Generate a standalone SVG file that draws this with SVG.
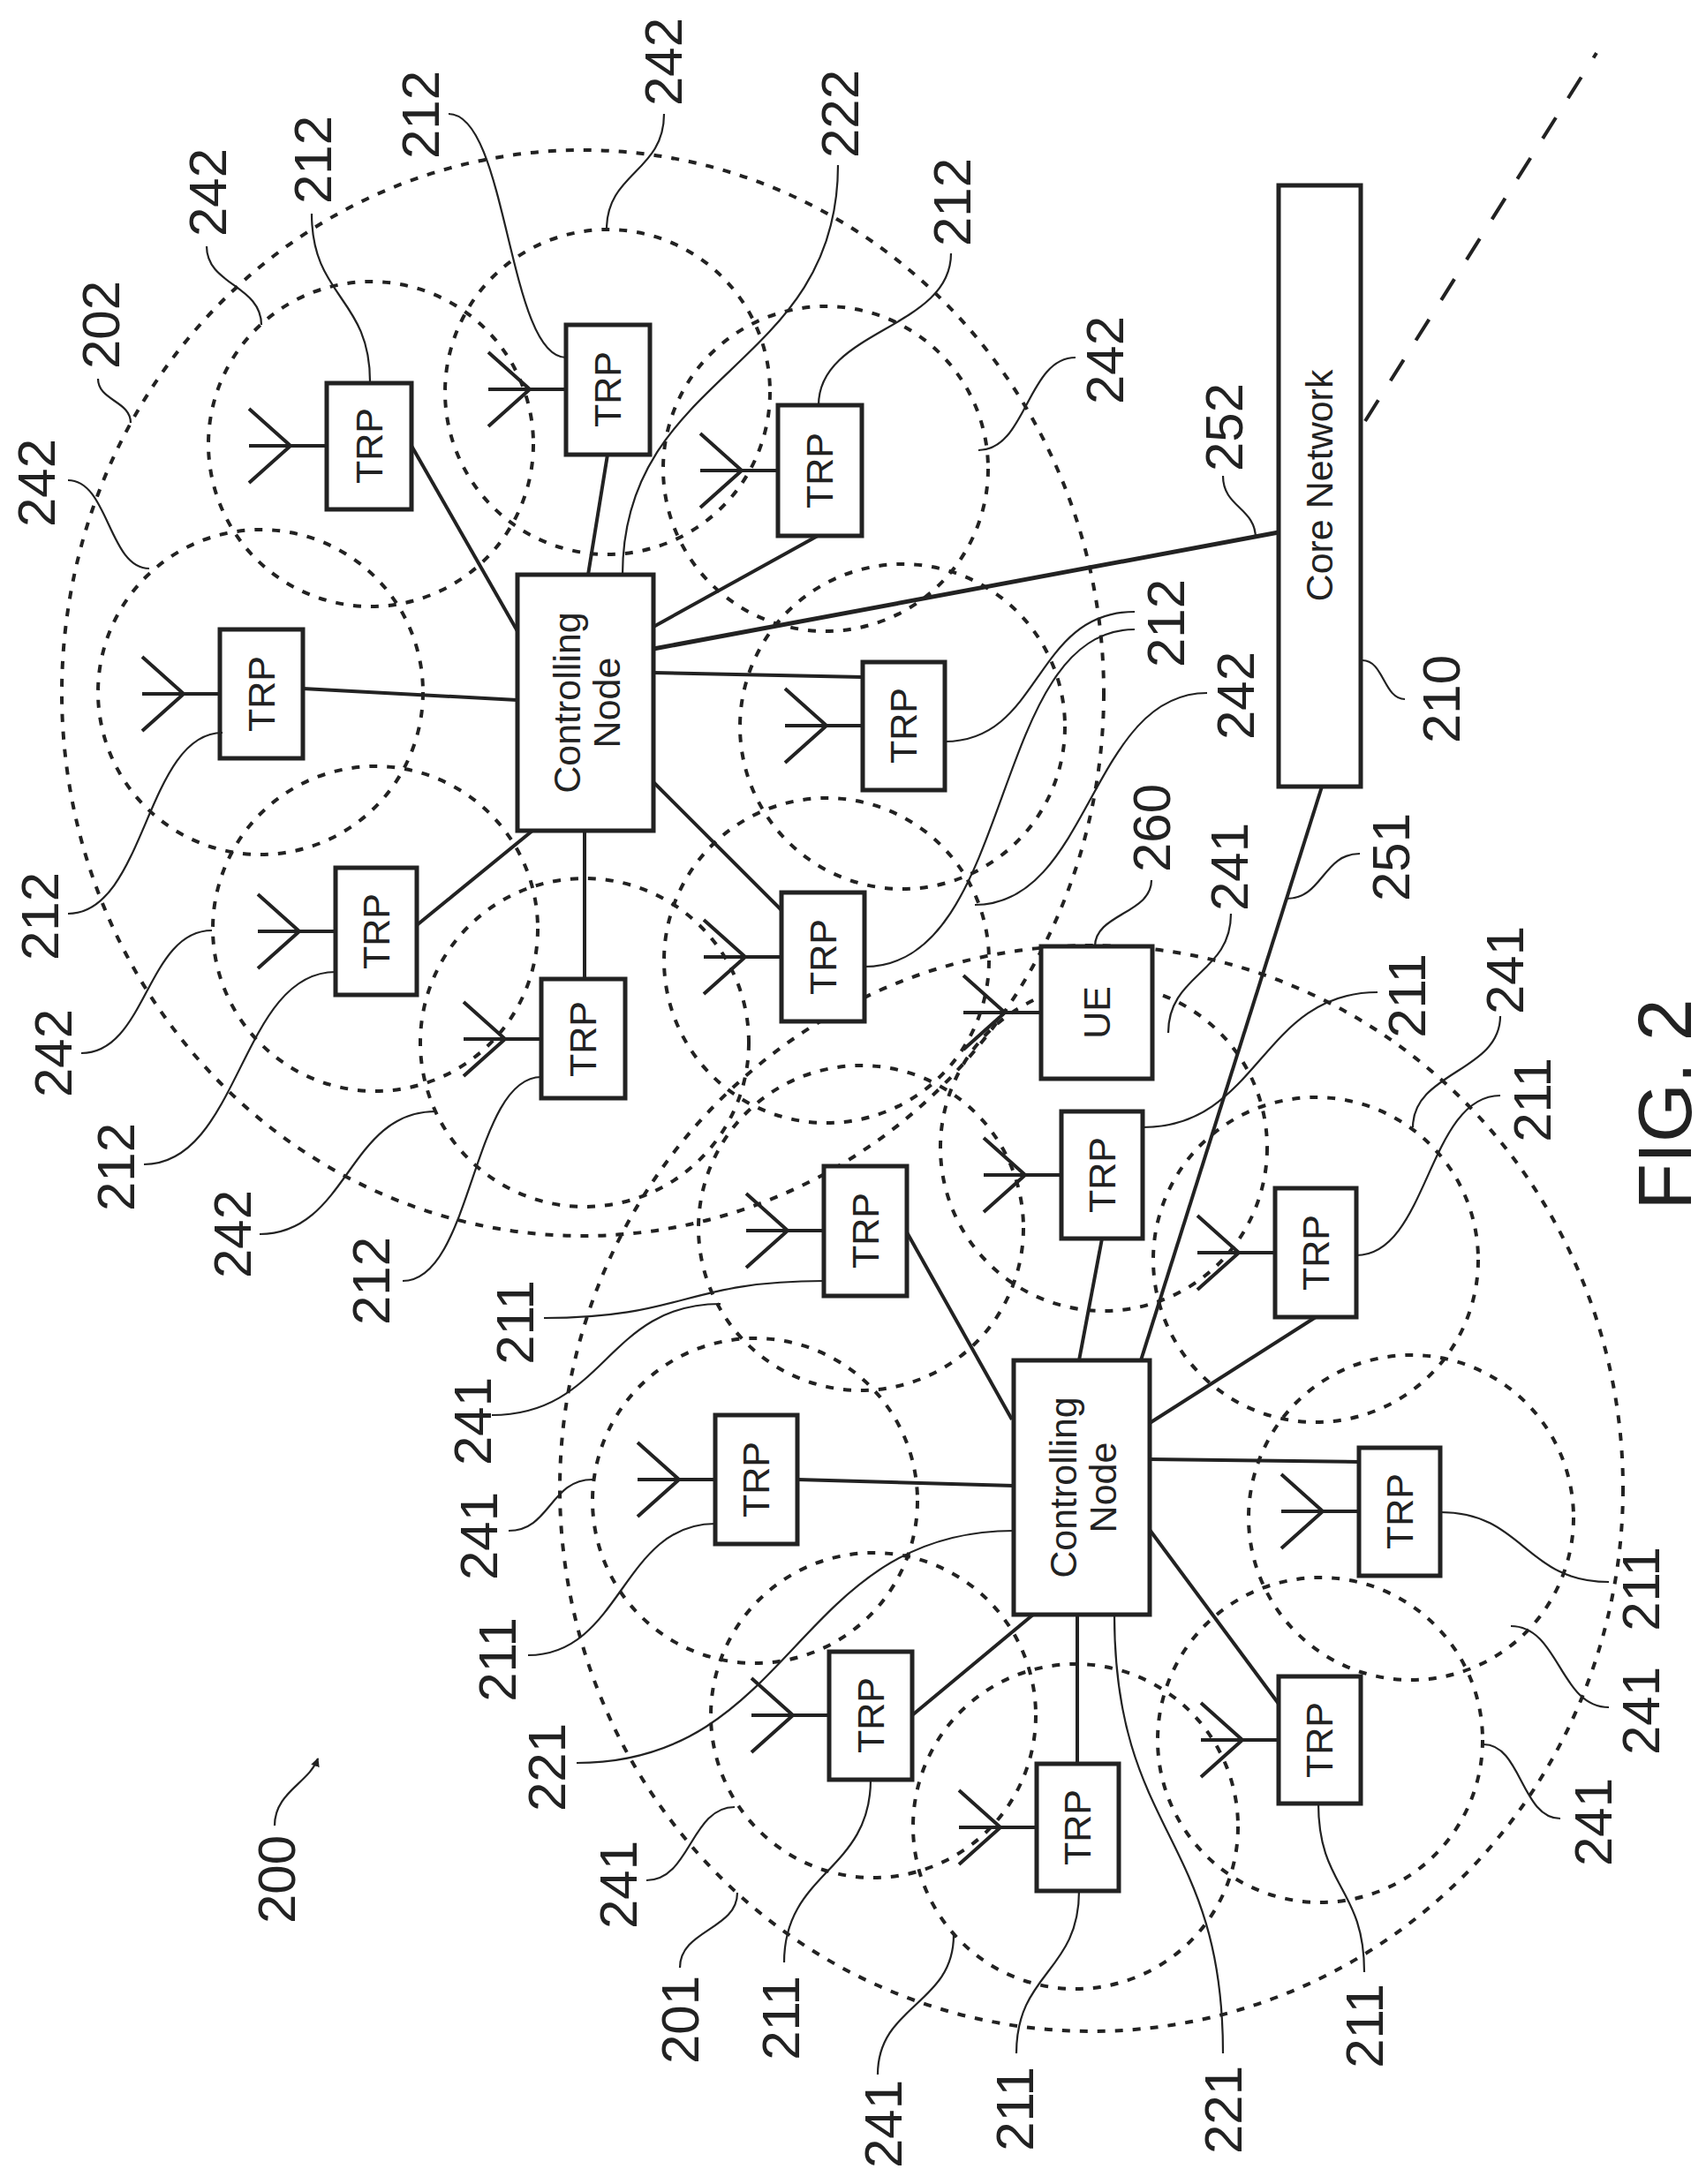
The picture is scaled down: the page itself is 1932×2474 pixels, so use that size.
<svg xmlns="http://www.w3.org/2000/svg" xmlns:xlink="http://www.w3.org/1999/xlink" width="1932" height="2474" viewBox="0 0 1932 2474">
<style>
.bg{fill:#fff}
.box{fill:#fff;stroke:#222;stroke-width:5}
.link{fill:none;stroke:#222;stroke-width:4}
.thick{fill:none;stroke:#222;stroke-width:5}
.cell{fill:none;stroke:#222;stroke-width:4;stroke-dasharray:9 11}
.lead{fill:none;stroke:#222;stroke-width:2.2}
.ant{fill:none;stroke:#222;stroke-width:4}
.lbl{font-family:"Liberation Sans",Arial,sans-serif;font-size:60px;fill:#222;text-anchor:middle}
.in{font-family:"Liberation Sans",Arial,sans-serif;font-size:43px;fill:#222;text-anchor:middle}
</style>
<defs>
<path id="an" class="ant" d="M0,0 H-88 M-41,0 L-88,-42 M-41,0 L-88,42"/>
<marker id="ah" markerWidth="10" markerHeight="10" refX="9" refY="5" orient="auto" markerUnits="userSpaceOnUse"><path d="M0,0 L10,5 L0,10 z" fill="#222"/></marker>
</defs>
<rect class="bg" width="1932" height="2474"/>

<g id="cells">
<ellipse class="cell" cx="660" cy="785" rx="590" ry="615"/>
<ellipse class="cell" cx="1236" cy="1686" rx="602" ry="615"/>
<circle class="cell" cx="420" cy="503" r="184"/>
<circle class="cell" cx="688" cy="444" r="184"/>
<circle class="cell" cx="935" cy="531" r="184"/>
<circle class="cell" cx="295" cy="784" r="184"/>
<circle class="cell" cx="1022" cy="823" r="184"/>
<circle class="cell" cx="425" cy="1052" r="184"/>
<circle class="cell" cx="662" cy="1181" r="186"/>
<circle class="cell" cx="936" cy="1088" r="184"/>
<circle class="cell" cx="975" cy="1391" r="184"/>
<circle class="cell" cx="1250" cy="1300" r="185"/>
<circle class="cell" cx="1490" cy="1427" r="184"/>
<circle class="cell" cx="855" cy="1700" r="184"/>
<circle class="cell" cx="1598" cy="1719" r="184"/>
<circle class="cell" cx="989" cy="1943" r="184"/>
<circle class="cell" cx="1218" cy="2069" r="184"/>
<circle class="cell" cx="1495" cy="1971" r="184"/>
</g>

<g id="connectors">
<path class="link" d="M466,505 L586,715"/>
<path class="link" d="M688,515 L666,651"/>
<path class="link" d="M926,607 L740,710"/>
<path class="thick" d="M740,735 L1448,603"/>
<path class="link" d="M343,780 L586,793"/>
<path class="link" d="M740,762 L977,767"/>
<path class="link" d="M740,886 L885,1031"/>
<path class="link" d="M472,1048 L603,941"/>
<path class="link" d="M662,941 L662,1109"/>
<path class="link" d="M1497,891 L1292,1541"/>
<path fill="none" stroke="#222" stroke-width="4" stroke-dasharray="28 26" d="M1546,477 L1808,60"/>
<path class="link" d="M1027,1396 L1146,1608"/>
<path class="link" d="M1248,1403 L1222,1541"/>
<path class="link" d="M1490,1492 L1302,1612"/>
<path class="link" d="M903,1676 L1148,1683"/>
<path class="link" d="M1302,1653 L1539,1656"/>
<path class="link" d="M1033,1943 L1170,1829"/>
<path class="link" d="M1220,1829 L1220,1998"/>
<path class="link" d="M1302,1733 L1448,1930"/>
</g>

<g id="nodeU"><rect class="box" x="586" y="651" width="154" height="290"/><text class="in" transform="translate(663,796) rotate(-90)" y="-6">Controlling</text><text class="in" transform="translate(663,796) rotate(-90)" y="39">Node</text></g>
<g id="nodeL"><rect class="box" x="1148" y="1541" width="154" height="288"/><text class="in" transform="translate(1225,1685) rotate(-90)" y="-6">Controlling</text><text class="in" transform="translate(1225,1685) rotate(-90)" y="39">Node</text></g>
<g id="core"><rect class="box" x="1448" y="210" width="93" height="681"/><text class="in" transform="translate(1494,550) rotate(-90)" y="15">Core Network</text></g>
<g id="ue"><use href="#an" x="1179" y="1147"/><rect class="box" x="1179" y="1072" width="126" height="150"/><text class="in" transform="translate(1242,1147) rotate(-90)" y="15">UE</text></g>

<g id="trpA"><use href="#an" x="370" y="505"/><rect class="box" x="370" y="434" width="96" height="143"/><text class="in" transform="translate(418,505) rotate(-90)" y="15">TRP</text></g>
<g id="trpB"><use href="#an" x="641" y="441"/><rect class="box" x="641" y="368" width="95" height="147"/><text class="in" transform="translate(688,441) rotate(-90)" y="15">TRP</text></g>
<g id="trpC"><use href="#an" x="881" y="533"/><rect class="box" x="881" y="459" width="95" height="148"/><text class="in" transform="translate(928,533) rotate(-90)" y="15">TRP</text></g>
<g id="trpD"><use href="#an" x="249" y="786"/><rect class="box" x="249" y="713" width="94" height="146"/><text class="in" transform="translate(296,786) rotate(-90)" y="15">TRP</text></g>
<g id="trpE"><use href="#an" x="977" y="822"/><rect class="box" x="977" y="750" width="93" height="145"/><text class="in" transform="translate(1023,822) rotate(-90)" y="15">TRP</text></g>
<g id="trpF"><use href="#an" x="380" y="1055"/><rect class="box" x="380" y="983" width="92" height="144"/><text class="in" transform="translate(426,1055) rotate(-90)" y="15">TRP</text></g>
<g id="trpG"><use href="#an" x="613" y="1177"/><rect class="box" x="613" y="1109" width="95" height="135"/><text class="in" transform="translate(660,1177) rotate(-90)" y="15">TRP</text></g>
<g id="trpH"><use href="#an" x="885" y="1084"/><rect class="box" x="885" y="1011" width="94" height="146"/><text class="in" transform="translate(932,1084) rotate(-90)" y="15">TRP</text></g>

<g id="trpa"><use href="#an" x="933" y="1394"/><rect class="box" x="933" y="1321" width="94" height="147"/><text class="in" transform="translate(980,1394) rotate(-90)" y="15">TRP</text></g>
<g id="trpb"><use href="#an" x="1202" y="1331"/><rect class="box" x="1202" y="1259" width="92" height="144"/><text class="in" transform="translate(1248,1331) rotate(-90)" y="15">TRP</text></g>
<g id="trpc"><use href="#an" x="1444" y="1419"/><rect class="box" x="1444" y="1346" width="92" height="146"/><text class="in" transform="translate(1490,1419) rotate(-90)" y="15">TRP</text></g>
<g id="trpd"><use href="#an" x="810" y="1676"/><rect class="box" x="810" y="1603" width="93" height="146"/><text class="in" transform="translate(856,1676) rotate(-90)" y="15">TRP</text></g>
<g id="trpe"><use href="#an" x="1539" y="1712"/><rect class="box" x="1539" y="1640" width="92" height="145"/><text class="in" transform="translate(1585,1712) rotate(-90)" y="15">TRP</text></g>
<g id="trpf"><use href="#an" x="939" y="1943"/><rect class="box" x="939" y="1871" width="94" height="145"/><text class="in" transform="translate(986,1943) rotate(-90)" y="15">TRP</text></g>
<g id="trpg"><use href="#an" x="1174" y="2070"/><rect class="box" x="1174" y="1998" width="93" height="144"/><text class="in" transform="translate(1220,2070) rotate(-90)" y="15">TRP</text></g>
<g id="trph"><use href="#an" x="1448" y="1971"/><rect class="box" x="1448" y="1899" width="93" height="144"/><text class="in" transform="translate(1494,1971) rotate(-90)" y="15">TRP</text></g>

<g id="leaders">
<path class="lead" d="M77,544 C123,544 123,644 169,644"/>
<path class="lead" d="M111,429 C111,454 148,454 148,479"/>
<path class="lead" d="M234,279 C234,323 296,323 296,368"/>
<path class="lead" d="M353,242 C353,337 419,337 419,432"/>
<path class="lead" d="M508,129 C575,129 575,405 641,405"/>
<path class="lead" d="M752,129 C752,195 687,195 687,260"/>
<path class="lead" d="M949,187 C949,420 705,420 705,651"/>
<path class="lead" d="M1077,287 C1077,373 927,373 927,459"/>
<path class="lead" d="M1218,405 C1163,405 1163,510 1108,510"/>
<path class="lead" d="M1385,539 C1385,575 1422,575 1422,610"/>
<path class="lead" d="M1285,693 C1170,693 1180,840 1070,840"/>
<path class="lead" d="M1285,713 C1120,713 1150,1095 979,1095"/>
<path class="lead" d="M1367,785 C1235,785 1235,1025 1104,1025"/>
<path class="lead" d="M1304,997 C1304,1035 1240,1035 1240,1072"/>
<path class="lead" d="M1394,1035 C1394,1103 1323,1103 1323,1170"/>
<path class="lead" d="M1540,967 C1498,967 1498,1018 1457,1018"/>
<path class="lead" d="M1543,748 C1567,748 1567,792 1591,792"/>
<path class="lead" d="M77,1035 C165,1035 165,830 252,830"/>
<path class="lead" d="M92,1193 C166,1193 166,1054 240,1054"/>
<path class="lead" d="M163,1319 C272,1319 272,1101 380,1101"/>
<path class="lead" d="M294,1398 C394,1398 394,1259 493,1259"/>
<path class="lead" d="M456,1451 C535,1451 535,1220 613,1220"/>
<path class="lead" d="M616,1493 C775,1493 775,1451 933,1451"/>
<path class="lead" d="M557,1603 C686,1603 686,1477 816,1477"/>
<path class="lead" d="M576,1734 C623,1734 623,1676 671,1676"/>
<path class="lead" d="M598,1875 C704,1875 704,1726 810,1726"/>
<path class="lead" d="M653,1997 C900,1997 900,1734 1148,1734"/>
<path class="lead" d="M311,2068 C311,2030 350,2020 360,1992" marker-end="url(#ah)"/>
<path class="lead" d="M732,2130 C782,2130 782,2047 832,2047"/>
<path class="lead" d="M770,2229 C770,2186 835,2186 835,2144"/>
<path class="lead" d="M888,2223 C888,2120 986,2120 986,2016"/>
<path class="lead" d="M994,2350 C994,2271 1080,2271 1080,2192"/>
<path class="lead" d="M1151,2326 C1151,2234 1222,2234 1222,2142"/>
<path class="lead" d="M1385,2326 C1385,2078 1262,2078 1262,1829"/>
<path class="lead" d="M1545,2234 C1545,2138 1493,2138 1493,2043"/>
<path class="lead" d="M1767,2060 C1723,2060 1723,1976 1680,1976"/>
<path class="lead" d="M1822,1934 C1766,1934 1766,1842 1711,1842"/>
<path class="lead" d="M1822,1792 C1726,1792 1726,1713 1631,1713"/>
<path class="lead" d="M1560,1124 C1427,1124 1427,1277 1294,1277"/>
<path class="lead" d="M1699,1151 C1699,1214 1600,1214 1600,1277"/>
<path class="lead" d="M1699,1241 C1617,1241 1617,1422 1536,1422"/>
</g>

<g id="labels">
<text class="lbl" transform="translate(41,547) rotate(-90)" y="21">242</text>
<text class="lbl" transform="translate(114,368) rotate(-90)" y="21">202</text>
<text class="lbl" transform="translate(235,218) rotate(-90)" y="21">242</text>
<text class="lbl" transform="translate(354,181) rotate(-90)" y="21">212</text>
<text class="lbl" transform="translate(476,130) rotate(-90)" y="21">212</text>
<text class="lbl" transform="translate(751,70) rotate(-90)" y="21">242</text>
<text class="lbl" transform="translate(951,129) rotate(-90)" y="21">222</text>
<text class="lbl" transform="translate(1078,229) rotate(-90)" y="21">212</text>
<text class="lbl" transform="translate(1251,408) rotate(-90)" y="21">242</text>
<text class="lbl" transform="translate(1386,484) rotate(-90)" y="21">252</text>
<text class="lbl" transform="translate(1320,706) rotate(-90)" y="21">212</text>
<text class="lbl" transform="translate(1399,788) rotate(-90)" y="21">242</text>
<text class="lbl" transform="translate(1304,938) rotate(-90)" y="21">260</text>
<text class="lbl" transform="translate(1392,982) rotate(-90)" y="21">241</text>
<text class="lbl" transform="translate(1575,971) rotate(-90)" y="21">251</text>
<text class="lbl" transform="translate(1632,792) rotate(-90)" y="21">210</text>
<text class="lbl" transform="translate(45,1038) rotate(-90)" y="21">212</text>
<text class="lbl" transform="translate(60,1193) rotate(-90)" y="21">242</text>
<text class="lbl" transform="translate(131,1322) rotate(-90)" y="21">212</text>
<text class="lbl" transform="translate(263,1398) rotate(-90)" y="21">242</text>
<text class="lbl" transform="translate(420,1451) rotate(-90)" y="21">212</text>
<text class="lbl" transform="translate(583,1498) rotate(-90)" y="21">211</text>
<text class="lbl" transform="translate(535,1610) rotate(-90)" y="21">241</text>
<text class="lbl" transform="translate(542,1740) rotate(-90)" y="21">241</text>
<text class="lbl" transform="translate(563,1880) rotate(-90)" y="21">211</text>
<text class="lbl" transform="translate(619,2002) rotate(-90)" y="21">221</text>
<text class="lbl" transform="translate(313,2129) rotate(-90)" y="21">200</text>
<text class="lbl" transform="translate(700,2135) rotate(-90)" y="21">241</text>
<text class="lbl" transform="translate(770,2288) rotate(-90)" y="21">201</text>
<text class="lbl" transform="translate(884,2286) rotate(-90)" y="21">211</text>
<text class="lbl" transform="translate(1000,2406) rotate(-90)" y="21">241</text>
<text class="lbl" transform="translate(1149,2389) rotate(-90)" y="21">211</text>
<text class="lbl" transform="translate(1385,2390) rotate(-90)" y="21">221</text>
<text class="lbl" transform="translate(1545,2295) rotate(-90)" y="21">211</text>
<text class="lbl" transform="translate(1804,2064) rotate(-90)" y="21">241</text>
<text class="lbl" transform="translate(1858,1938) rotate(-90)" y="21">241</text>
<text class="lbl" transform="translate(1858,1800) rotate(-90)" y="21">211</text>
<text class="lbl" transform="translate(1593,1128) rotate(-90)" y="21">211</text>
<text class="lbl" transform="translate(1704,1099) rotate(-90)" y="21">241</text>
<text class="lbl" transform="translate(1735,1246) rotate(-90)" y="21">211</text>
<text class="lbl" style="font-size:86px" transform="translate(1884,1251) rotate(-90)" y="31">FIG. 2</text>
</g>
</svg>
